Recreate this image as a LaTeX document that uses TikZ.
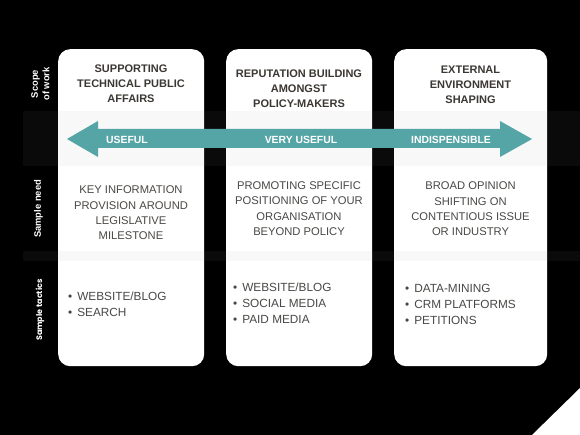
\documentclass[tikz,border=0pt]{standalone}
\usepackage{fontspec}
\setmainfont{Liberation Sans}
\newfontfamily\sidefont{Poppins}
\usetikzlibrary{positioning}
\definecolor{scaleteal}{HTML}{56A5A6}
\definecolor{headgray}{HTML}{3B3733}
\definecolor{bodygray}{HTML}{4A4845}
\definecolor{bandgray}{HTML}{0A0A0A}
\definecolor{bandlight}{HTML}{F8F8F8}

\begin{document}
\begin{tikzpicture}[x=1pt, y=-1pt,
card/.style={fill=white, rounded corners=12pt, minimum height=317pt, anchor=north west, inner sep=0pt},
heading/.style={align=center, inner sep=0pt, text=headgray, font=\bfseries\fontsize{11}{15}\selectfont},
need/.style={align=center, inner sep=0pt, text=bodygray, font=\fontsize{11.2}{15.4}\selectfont},
tactics/.style={align=left, anchor=west, inner sep=0pt, text=bodygray, font=\fontsize{11.8}{16}\selectfont},
level/.style={inner sep=0pt, text=white, font=\bfseries\fontsize{10.4}{12}\selectfont},
side/.style={rotate=90, align=center, inner sep=0pt, text=white, font=\bfseries\fontsize{9.4}{11.5}\selectfont}
]
\useasboundingbox (0,0) rectangle (580,435);
\fill[black] (0,0) rectangle (580,435);
\fill[white] (580,388) -- (532,435) -- (580,435) -- cycle;

% row bands
\fill[bandgray] (23,111) rectangle (580,166);
\fill[bandgray] (23,251) rectangle (580,261);

% columns
\node[card, minimum width=146pt] (tech) at (58,49) {};
\node[card, minimum width=146pt] (rep) at (226,49) {};
\node[card, minimum width=153pt] (ext) at (394,49) {};
\foreach \xa/\xb in {58/204, 226/372, 394/547} {
  \fill[bandlight] (\xa,111) rectangle (\xb,166);
  \fill[bandlight] (\xa,251) rectangle (\xb,261);
}

% scale arrow
\fill[scaleteal] (67,139) -- (98,121) -- (98,129) -- (500,129) -- (500,121)
  -- (532,139) -- (500,157) -- (500,148) -- (98,148) -- (98,157) -- cycle;
\node[level] (useful) at (127,139.5) {USEFUL};
\node[level] (veryuseful) at (301,139.5) {VERY USEFUL};
\node[level] (indisp) at (451,139.5) {INDISPENSIBLE};

% row labels
\node[side] (scope) at (40.5,84) {Scope\\of work};
\node[side] (need) at (38.5,209) {Sample need};
\node[side, font=\sidefont\bfseries\fontsize{8}{10}\selectfont] (tact) at (40,310) {Sample tactics};

% headings
\node[heading] (techhead) at (131,84) {SUPPORTING\\TECHNICAL PUBLIC\\AFFAIRS};
\node[heading] (rephead) at (299,89) {REPUTATION BUILDING\\AMONGST\\POLICY-MAKERS};
\node[heading] (exthead) at (470.5,85) {EXTERNAL\\ENVIRONMENT\\SHAPING};

% sample needs
\node[need] (techneed) at (131,213) {KEY INFORMATION\\PROVISION AROUND\\LEGISLATIVE\\MILESTONE};
\node[need] (repneed) at (299,208.5) {PROMOTING SPECIFIC\\POSITIONING OF YOUR\\ORGANISATION\\BEYOND POLICY};
\node[need] (extneed) at (470.5,209) {BROAD OPINION\\SHIFTING ON\\CONTENTIOUS ISSUE\\OR INDUSTRY};

% sample tactics
\node[tactics] (techtact) at (68,304.5) {\textbullet\hspace{5pt}WEBSITE/BLOG\\\textbullet\hspace{5pt}SEARCH};
\node[tactics] (reptact) at (233,303.5) {\textbullet\hspace{5pt}WEBSITE/BLOG\\\textbullet\hspace{5pt}SOCIAL MEDIA\\\textbullet\hspace{5pt}PAID MEDIA};
\node[tactics] (exttact) at (405,304) {\textbullet\hspace{5pt}DATA-MINING\\\textbullet\hspace{5pt}CRM PLATFORMS\\\textbullet\hspace{5pt}PETITIONS};
\end{tikzpicture}
\end{document}
